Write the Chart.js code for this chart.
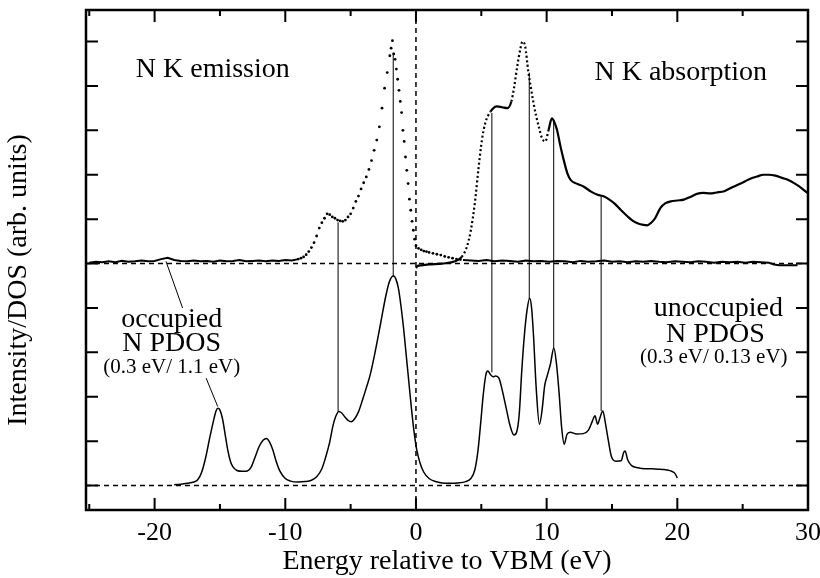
<!DOCTYPE html>
<html>
<head>
<meta charset="utf-8">
<script src="https://cdn.jsdelivr.net/npm/chart.js@4.4.0/dist/chart.umd.min.js"></script>
<style>
    html, body { margin: 0; padding: 0; background: #fff; }
    #wrap { width: 820px; height: 578px; }
</style>
</head>
<body>
<div id="wrap"><canvas id="dosChart" width="820" height="578"></canvas></div>
<script>
// axis limits (arb. units on y; emission/absorption sit on the y = 5 baseline)
const xMin = -25.25;
const xMax = 30;
const yMin = -0.55;
const yMax = 10.71;
const xTickValues = [-25, -20, -15, -10, -5, 0, 5, 10, 15, 20, 25, 30];
const yTickValues = [0, 1, 2, 3, 4, 5, 6, 7, 8, 9, 10];

// N K emission, flat part below the valence band
const emissionLeftE = [-25, -24.5, -24, -23.5, -23, -22.5, -22, -21.5, -21, -20.5, -20, -19.5, -19, -18.5, -18, -17.5,
    -17, -16.5, -16, -15.5, -15, -14.5, -14, -13.5, -13, -12.5, -12, -11.5, -11, -10.5, -10, -9.5, -9];
const emissionLeftI = [5.02, 5.04, 5.03, 5.05, 5.03, 5.06, 5.04, 5.05, 5.07, 5.05, 5.06, 5.10, 5.13, 5.08, 5.06, 5.05,
    5.07, 5.05, 5.06, 5.04, 5.07, 5.05, 5.06, 5.08, 5.05, 5.06, 5.07, 5.05, 5.07, 5.06, 5.08, 5.07, 5.10];

// N K emission, the measured dots of the band
const emissionPeakE = [-9.0, -8.8, -8.6, -8.4, -8.2, -8.0, -7.8, -7.6, -7.4, -7.2, -7.0, -6.8, -6.6, -6.4, -6.2, -6.0,
    -5.8, -5.6, -5.4, -5.2, -5.0, -4.8, -4.6, -4.4, -4.2, -4.0, -3.8, -3.6, -3.4, -3.2, -3.0, -2.8, -2.6, -2.4, -2.2,
    -2.0, -1.9, -1.8, -1.7, -1.6, -1.5, -1.4, -1.3, -1.2, -1.1, -1.0, -0.9, -0.8, -0.7, -0.6, -0.5, -0.4, -0.3, -0.2,
    -0.1, 0.0, 0.2, 0.4, 0.6, 0.8, 1.0, 1.3, 1.6, 1.9, 2.2, 2.5, 2.8, 3.1, 3.4];
const emissionPeakI = [5.10, 5.12, 5.15, 5.20, 5.27, 5.36, 5.47, 5.62, 5.80, 5.92, 6.02, 6.12, 6.10, 6.05, 6.02, 5.98,
    5.96, 5.95, 5.98, 6.05, 6.12, 6.25, 6.40, 6.52, 6.68, 6.82, 6.95, 7.12, 7.32, 7.55, 7.78, 8.08, 8.50, 8.95, 9.30,
    9.68, 9.85, 10.02, 9.72, 9.60, 9.38, 9.15, 8.90, 8.65, 8.40, 8.00, 7.75, 7.40, 7.10, 6.80, 6.45, 6.20, 5.95, 5.75,
    5.55, 5.40, 5.34, 5.31, 5.28, 5.27, 5.25, 5.23, 5.21, 5.19, 5.16, 5.14, 5.12, 5.10, 5.09];

// N K emission, flat part above the gap
const emissionRightE = [3.6, 4.2, 4.8, 5.4, 6.0, 6.6, 7.2, 7.8, 8.4, 9.0, 9.6, 10.2, 10.8, 11.4, 12.0, 12.6, 13.2, 13.8,
    14.4, 15.0, 15.6, 16.2, 16.8, 17.4, 18.0, 18.6, 19.2, 19.8, 20.4, 21.0, 21.6, 22.2, 22.8, 23.4, 24.0, 24.6, 25.2,
    25.8, 26.4, 27.0, 27.4, 27.8, 28.4, 29.2];
const emissionRightI = [5.08, 5.07, 5.06, 5.08, 5.05, 5.07, 5.06, 5.04, 5.07, 5.05, 5.06, 5.04, 5.06, 5.05, 5.03, 5.06,
    5.04, 5.05, 5.07, 5.04, 5.05, 5.03, 5.05, 5.04, 5.06, 5.04, 5.03, 5.05, 5.04, 5.03, 5.05, 5.04, 5.02, 5.04, 5.03,
    5.04, 5.02, 5.04, 5.03, 5.02, 4.98, 4.96, 4.96, 4.96];

// N K absorption
const absorptionE = [0.0, 0.1, 0.4, 1.0, 2.0, 3.0, 3.5, 3.9, 4.2, 4.5, 4.8, 5.05, 5.3, 5.7, 6.2, 6.6, 7.0, 7.3, 7.5,
    7.75, 8.0, 8.15, 8.35, 8.6, 8.8, 9.0, 9.2, 9.4, 9.65, 9.9, 10.15, 10.4, 10.6, 10.8, 11.05, 11.3, 11.6, 11.85, 12.3,
    12.85, 13.4, 13.9, 14.4, 14.8, 15.2, 15.7, 16.2, 16.6, 17.0, 17.4, 17.7, 18.0, 18.3, 18.7, 19.1, 19.5, 20.0, 20.5,
    21.0, 21.5, 22.0, 22.5, 23.0, 23.6, 24.2, 24.9, 25.5, 26.1, 26.6, 27.0, 27.5, 28.0, 28.5, 29.0, 29.5, 30.0];
const absorptionI = [4.90, 4.94, 4.96, 4.98, 5.00, 5.05, 5.15, 5.38, 5.75, 6.35, 7.18, 7.79, 8.16, 8.42, 8.54, 8.52,
    8.50, 8.65, 8.95, 9.44, 9.85, 10.0, 9.90, 9.32, 8.95, 8.61, 8.32, 8.08, 7.82, 7.75, 8.01, 8.27, 8.18, 8.00, 7.65,
    7.34, 7.02, 6.88, 6.80, 6.73, 6.62, 6.55, 6.51, 6.44, 6.35, 6.20, 6.06, 5.96, 5.90, 5.87, 5.86, 5.92, 6.02, 6.25,
    6.36, 6.40, 6.42, 6.44, 6.50, 6.57, 6.59, 6.58, 6.60, 6.63, 6.72, 6.81, 6.90, 6.96, 7.00, 7.00, 6.98, 6.93, 6.88,
    6.80, 6.70, 6.58];

// calculated N PDOS (occupied below 0, unoccupied above)
const pdosE = [-18.5, -18.0, -17.5, -17.0, -16.7, -16.4, -16.1, -15.8, -15.5, -15.3, -15.15, -15.0, -14.8, -14.6, -14.4,
    -14.2, -14.0, -13.7, -13.3, -12.9, -12.6, -12.3, -12.0, -11.7, -11.45, -11.2, -10.95, -10.7, -10.4, -10.0, -9.6,
    -9.0, -8.5, -8.0, -7.6, -7.2, -6.9, -6.6, -6.35, -6.15, -5.9, -5.7, -5.45, -5.2, -4.95, -4.7, -4.4, -4.1, -3.8,
    -3.5, -3.2, -2.9, -2.6, -2.3, -2.05, -1.85, -1.7, -1.55, -1.35, -1.15, -0.95, -0.75, -0.55, -0.35, -0.15, 0.05,
    0.3, 0.6, 1.0, 1.5, 2.0, 2.6, 3.2, 3.8, 4.2, 4.5, 4.75, 4.95, 5.15, 5.35, 5.5, 5.7, 5.9, 6.1, 6.35, 6.6, 6.9, 7.2,
    7.5, 7.7, 7.9, 8.1, 8.3, 8.5, 8.7, 8.85, 9.0, 9.2, 9.45, 9.65, 9.85, 10.05, 10.3, 10.55, 10.75, 10.95, 11.15,
    11.35, 11.55, 11.8, 12.3, 12.8, 13.2, 13.5, 13.7, 13.9, 14.05, 14.3, 14.5, 14.7, 14.95, 15.3, 15.7, 15.9, 16.0,
    16.2, 16.5, 17.0, 17.5, 18.0, 18.5, 19.0, 19.5, 19.8, 20.0];
const pdosI = [0.02, 0.03, 0.05, 0.08, 0.13, 0.30, 0.62, 1.05, 1.45, 1.68, 1.74, 1.70, 1.50, 1.15, 0.80, 0.55, 0.42,
    0.34, 0.32, 0.33, 0.42, 0.65, 0.88, 1.02, 1.06, 0.98, 0.80, 0.55, 0.32, 0.16, 0.10, 0.08, 0.09, 0.12, 0.20, 0.38,
    0.65, 0.98, 1.35, 1.55, 1.67, 1.64, 1.55, 1.47, 1.44, 1.50, 1.66, 1.92, 2.20, 2.50, 2.90, 3.35, 3.82, 4.28, 4.58,
    4.70, 4.72, 4.66, 4.45, 4.05, 3.55, 2.95, 2.35, 1.75, 1.22, 0.82, 0.52, 0.30, 0.16, 0.09, 0.06, 0.05, 0.06, 0.09,
    0.16, 0.35, 0.80, 1.40, 2.05, 2.50, 2.58, 2.50, 2.45, 2.47, 2.42, 2.15, 1.75, 1.35, 1.14, 1.20, 1.60, 2.60, 3.40,
    3.95, 4.22, 4.00, 3.35, 2.20, 1.38, 1.70, 2.25, 2.48, 2.75, 3.10, 2.75, 2.10, 1.30, 0.93, 1.15, 1.20, 1.16, 1.17,
    1.25, 1.45, 1.57, 1.38, 1.50, 1.68, 1.40, 1.05, 0.66, 0.55, 0.56, 0.75, 0.78, 0.58, 0.45, 0.40, 0.38, 0.38, 0.37,
    0.36, 0.33, 0.28, 0.17];

// vertical guides joining matching features: energy, lower end, upper end
const guideE = [-5.96, -1.74, 5.81, 8.67, 10.54, 14.17];
const guideLow = [1.67, 4.72, 2.55, 4.20, 3.10, 1.68];
const guideHigh = [5.93, 9.75, 8.39, 9.30, 8.22, 6.52];

// leader lines from the "occupied" labels
const leaderE = [[-19.13, -17.86], [-16.06, -15.17]];
const leaderI = [[5.05, 4.00], [2.42, 1.78]];

const serif = '"Liberation Serif", "DejaVu Serif", serif';

const toPoints = (xs, ys) => xs.map((x, i) => ({ x, y: ys[i] }));

function lineSet(points, extra) {
    return Object.assign({
        data: points,
        showLine: true,
        borderColor: '#000',
        borderWidth: 1.5,
        pointRadius: 0,
        fill: false,
        tension: 0,
    }, extra || {});
}

const datasets = [
    lineSet(toPoints([xMin, xMax], [0, 0]), { borderDash: [5, 4] }),
    lineSet(toPoints([xMin, xMax], [5, 5]), { borderDash: [5, 4] }),
    lineSet(toPoints([0, 0], [yMin, yMax]), { borderDash: [5, 4] }),
    lineSet(toPoints(emissionLeftE, emissionLeftI), { borderWidth: 2 }),
    lineSet(toPoints(emissionRightE, emissionRightI), { borderWidth: 2 }),
    {
        data: toPoints(emissionPeakE, emissionPeakI),
        showLine: false,
        pointRadius: 1.4,
        pointBorderWidth: 0,
        pointBackgroundColor: '#000',
    },
    lineSet(toPoints(absorptionE, absorptionI), {
        borderWidth: 2.2,
        cubicInterpolationMode: 'monotone',
        segment: {
            borderDash: (ctx) => {
                const x0 = ctx.p0.parsed.x;
                const steep = (x0 >= 3.4 && x0 < 5.6) || (x0 >= 7.3 && x0 < 10.0);
                return steep ? [2, 2.5] : undefined;
            },
        },
    }),
    lineSet(toPoints(pdosE, pdosI), { borderWidth: 1.5, cubicInterpolationMode: 'monotone' }),
];

guideE.forEach((e, i) => {
    datasets.push(lineSet(toPoints([e, e], [guideLow[i], guideHigh[i]]), { borderWidth: 1 }));
});
leaderE.forEach((es, i) => {
    datasets.push(lineSet(toPoints(es, leaderI[i]), { borderWidth: 1 }));
});

// text placed in data coordinates
const annotations = [
    { text: 'N K emission', x: -21.44, y: 9.2, align: 'left', size: 28 },
    { text: 'N K absorption', x: 13.66, y: 9.14, align: 'left', size: 28 },
    { text: 'occupied', x: -18.69, y: 3.58, align: 'center', size: 28 },
    { text: 'N PDOS', x: -18.69, y: 3.02, align: 'center', size: 28 },
    { text: '(0.3 eV/ 1.1 eV)', x: -18.69, y: 2.54, align: 'center', size: 21 },
    { text: 'unoccupied', x: 23.14, y: 3.81, align: 'center', size: 28 },
    { text: 'N PDOS', x: 22.91, y: 3.24, align: 'center', size: 28 },
    { text: '(0.3 eV/ 0.13 eV)', x: 22.79, y: 2.76, align: 'center', size: 21 },
];

const framePlugin = {
    id: 'frame',
    afterDraw(chart) {
        const { ctx, chartArea: a } = chart;
        const x = chart.scales.x;
        const y = chart.scales.y;
        ctx.save();
        ctx.strokeStyle = '#000';
        ctx.lineWidth = 2;
        ctx.beginPath();
        xTickValues.forEach((v) => {
            const px = x.getPixelForValue(v);
            const len = v % 10 === 0 ? 12 : 6;
            ctx.moveTo(px, a.bottom);
            ctx.lineTo(px, a.bottom - len);
            ctx.moveTo(px, a.top);
            ctx.lineTo(px, a.top + len);
        });
        yTickValues.forEach((v) => {
            const py = y.getPixelForValue(v);
            ctx.moveTo(a.left, py);
            ctx.lineTo(a.left + 12, py);
            ctx.moveTo(a.right, py);
            ctx.lineTo(a.right - 12, py);
        });
        ctx.stroke();
        ctx.lineWidth = 2.5;
        ctx.strokeRect(a.left, a.top, a.right - a.left, a.bottom - a.top);

        ctx.fillStyle = '#000';
        ctx.textBaseline = 'alphabetic';
        annotations.forEach((t) => {
            ctx.font = `${t.size}px ${serif}`;
            ctx.textAlign = t.align;
            ctx.fillText(t.text, x.getPixelForValue(t.x), y.getPixelForValue(t.y));
        });

        // y axis title, centred a little below the middle of the plot as in the original
        ctx.translate(19, 280);
        ctx.rotate(-Math.PI / 2);
        ctx.font = `28px ${serif}`;
        ctx.textAlign = 'center';
        ctx.textBaseline = 'middle';
        ctx.fillText('Intensity/DOS (arb. units)', 0, 0);
        ctx.restore();
    },
};

new Chart(document.getElementById('dosChart'), {
    type: 'scatter',
    data: { datasets },
    options: {
        responsive: false,
        devicePixelRatio: 1,
        animation: false,
        layout: { padding: { left: 0, right: 12, top: 10, bottom: 0 } },
        plugins: { legend: { display: false }, tooltip: { enabled: false } },
        scales: {
            x: {
                type: 'linear',
                min: xMin,
                max: xMax,
                grid: { display: false, drawTicks: false },
                border: { display: false },
                afterBuildTicks: (scale) => {
                    scale.ticks = xTickValues.map((v) => ({ value: v }));
                },
                ticks: {
                    color: '#000',
                    padding: 8,
                    maxRotation: 0,
                    autoSkip: false,
                    font: { family: serif, size: 26 },
                    callback: (v) => (v % 10 === 0 ? String(v) : ''),
                },
                title: {
                    display: true,
                    text: 'Energy relative to VBM (eV)',
                    color: '#000',
                    font: { family: serif, size: 28 },
                    padding: { top: 0, bottom: 0 },
                },
                afterFit: (scale) => {
                    scale.height = 68;
                    scale.paddingLeft = 0;
                    scale.paddingRight = 0;
                },
            },
            y: {
                type: 'linear',
                min: yMin,
                max: yMax,
                grid: { display: false, drawTicks: false },
                border: { display: false },
                ticks: { display: false },
                afterFit: (scale) => {
                    scale.width = 86;
                },
            },
        },
    },
    plugins: [framePlugin],
});
</script>
</body>
</html>
